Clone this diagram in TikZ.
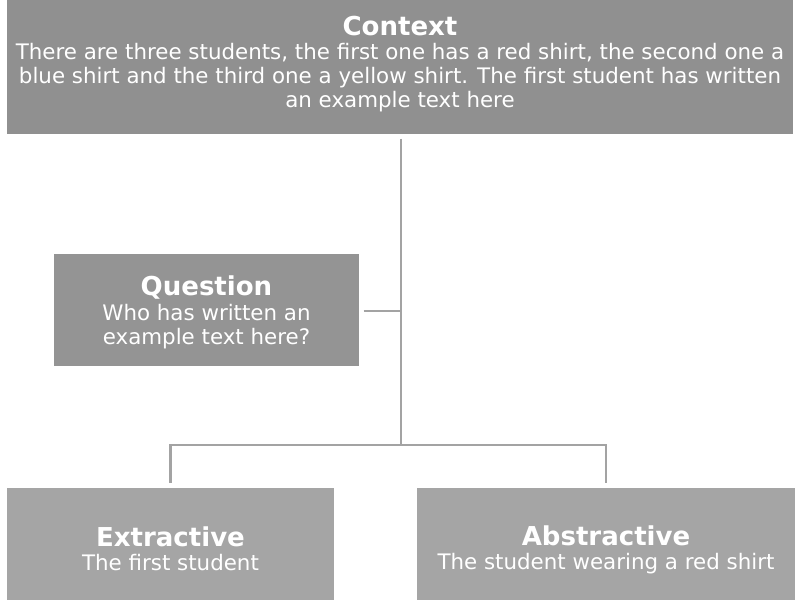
\documentclass[tikz,border=0pt]{standalone}
\usepackage{fontspec}
\setmainfont{DejaVu Sans}
\usetikzlibrary{positioning}
\definecolor{topgray}{HTML}{909090}
\definecolor{midgray}{HTML}{949494}
\definecolor{lowgray}{HTML}{A5A5A5}
\definecolor{linegray}{HTML}{A3A3A3}
% title line of a box, #1 = strut height that sets the text lower
\newcommand\boxtitle[2]{\rule{0pt}{#1}{\bfseries\fontsize{18.5}{19}\selectfont #2}}

\begin{document}
\begin{tikzpicture}[x=0.025cm, y=-0.025cm,
    box/.style={fill=topgray, text=white, align=center, inner sep=0pt,
        font=\fontsize{15.2}{17.2}\selectfont},
    link/.style={draw=linegray, line width=2.1pt}]
    \useasboundingbox (0,0) rectangle (800,600);

    \node[box, minimum width=19.65cm, minimum height=3.35cm] (Context) at (400,67)
        {\boxtitle{0pt}{Context}\\
         There are three students, the first one has a red shirt, the second one a\\
         blue shirt and the third one a yellow shirt. The first student has written\\
         an example text here\rule[-7.6pt]{0pt}{7.6pt}};
    \node[box, fill=midgray, minimum width=7.625cm, minimum height=2.8cm] (Question) at (206.5,310)
        {\boxtitle{17.5pt}{Question}\\
         Who has written an\\ example text here?};
    \node[box, fill=lowgray, minimum width=8.175cm, minimum height=2.8cm] (Extractive) at (170.5,544)
        {\boxtitle{21pt}{Extractive}\\ The first student};
    \node[box, fill=lowgray, minimum width=9.45cm, minimum height=2.8cm] (Abstractive) at (606,544)
        {\boxtitle{22pt}{Abstractive}\\ The student wearing a red shirt};

    \coordinate (fork) at (401,445);
    \coordinate (ask)  at (401,311);

    \draw[link, shorten <=3pt] (Context.south -| fork) -- (fork);
    \draw[link, shorten <=3pt] (Question.east |- ask) -- (ask);
    \draw[link, shorten >=3pt] (fork) -| (Extractive.north);
    \draw[link, shorten >=3pt] (fork) -| (Abstractive.north);
\end{tikzpicture}
\end{document}
